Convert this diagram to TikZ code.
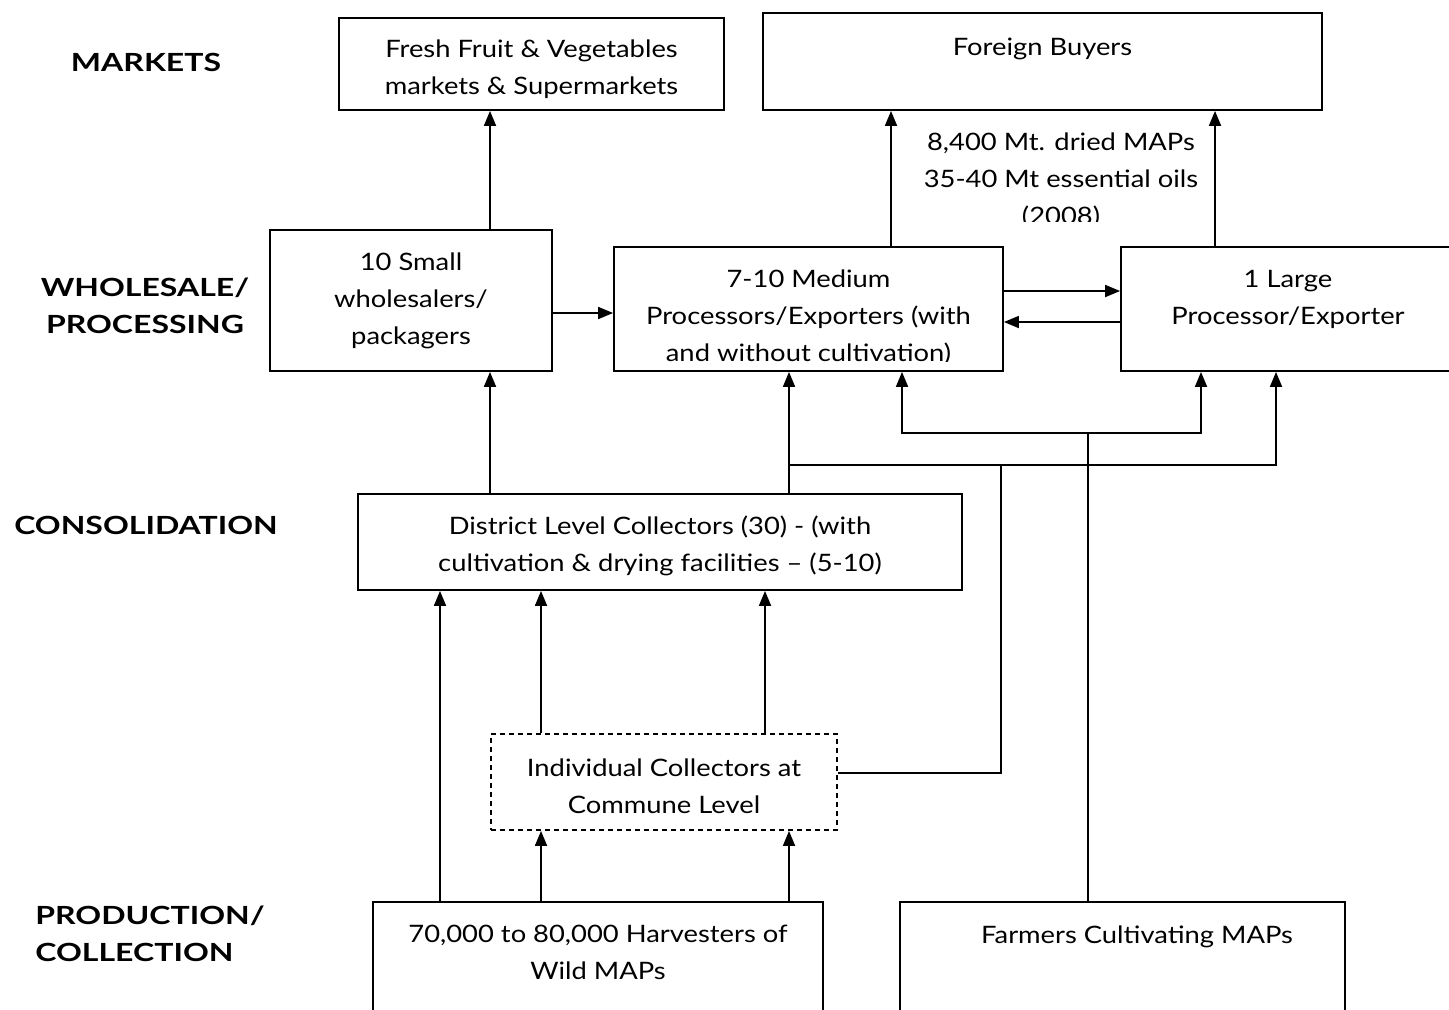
\documentclass[tikz,border=0pt]{standalone}
\usepackage{fontspec}
\setmainfont{Lato}[FakeStretch=1.14]
\newfontfamily\lvlfont{Lato}[FakeStretch=1.28]
\usetikzlibrary{shapes,arrows.meta}

\begin{document}
\begin{tikzpicture}[x=0.5pt,y=-0.5pt]
        \tikzstyle{box}=[rectangle,draw,line width=0.9pt,inner sep=0pt]
        \tikzstyle{txt}=[align=center,inner sep=0pt,font=\fontsize{12}{18.5}\selectfont]
        \tikzstyle{level}=[align=center,inner sep=0pt,font=\fontsize{12.5}{18.5}\selectfont\lvlfont\bfseries]
        \tikzstyle{arr}=[line width=0.9pt,-{Triangle[width=6pt,length=7.5pt]}]
        \tikzstyle{wire}=[line width=0.9pt]
        \clip (0,0) rectangle (1449,1009);

        % levels
        \node[level] (mkt) at (146,62) {MARKETS};
        \node[level] (whl) at (145,306) {WHOLESALE/\\PROCESSING};
        \node[level] (cons) at (146,525) {CONSOLIDATION};
        \node[level,align=left,anchor=west] (prod) at (35,934) {PRODUCTION/\\COLLECTION};

        % boxes
        \node[box,minimum width=192.5pt,minimum height=46pt] (fresh) at (531.5,64) {};
        \node[txt] (fresht) at (531.5,69) {Fresh Fruit \& Vegetables\\markets \& Supermarkets};
        \node[box,minimum width=279.5pt,minimum height=48.5pt] (foreign) at (1042.5,61.5) {};
        \node[txt] (foreignt) at (1042.5,49) {Foreign Buyers};
        \begin{scope}
        \clip (890,118) rectangle (1210,221);
        \node[txt] (volume) at (1061,180) {8,400 Mt. dried MAPs\\35-40 Mt essential oils\\(2008)};
        \end{scope}
        \node[box,minimum width=141pt,minimum height=70.5pt] (small) at (411,300.5) {};
        \node[txt] (smallt) at (411,301) {10 Small\\wholesalers/\\packagers};
        \node[box,minimum width=194.5pt,minimum height=62pt] (medium) at (808.5,309) {};
        \begin{scope}
        \clip (614,247) rectangle (1003,361);
        \node[txt] (mediumt) at (808.5,317) {7-10 Medium\\Processors/Exporters (with\\and without cultivation)};
        \end{scope}
        \node[box,minimum width=167pt,minimum height=62pt] (large) at (1288,309) {};
        \node[txt] (larget) at (1288,299.5) {1 Large\\Processor/Exporter};
        \node[box,minimum width=302pt,minimum height=48pt] (district) at (660,542) {};
        \node[txt] (districtt) at (660,546) {District Level Collectors (30) - (with\\cultivation \& drying facilities -- (5-10)};
        \node[box,dashed,dash pattern=on 2.5pt off 2pt,minimum width=173pt,minimum height=48pt] (indiv) at (664,782) {};
        \node[txt] (indivt) at (664,786) {Individual Collectors at\\Commune Level};
        \node[box,minimum width=225pt,minimum height=64pt] (harv) at (598,966) {};
        \node[txt] (harvt) at (598,952) {70,000 to 80,000 Harvesters of\\Wild MAPs};
        \node[box,minimum width=222.5pt,minimum height=64pt] (farm) at (1122.5,966) {};
        \node[txt] (farmt) at (1137,937) {Farmers Cultivating MAPs};

        % guides
        \coordinate (xa) at (490,0);
        \coordinate (xb) at (891,0);
        \coordinate (xc) at (1215,0);
        \coordinate (xe) at (440,0);
        \coordinate (xf) at (541,0);
        \coordinate (xg) at (789,0);
        \coordinate (xh) at (765,0);
        \coordinate (ya) at (0,313);
        \coordinate (yb) at (0,291);
        \coordinate (yc) at (0,322);
        \coordinate (j1) at (789,465);
        \coordinate (j2) at (1276,465);
        \coordinate (j3) at (1001,465);
        \coordinate (j4) at (1001,773);
        \coordinate (j5) at (902,433);
        \coordinate (j6) at (1201,433);
        \coordinate (j7) at (1088,433);

        % connectors
        \draw[arr] (small.north -| xa) -- (fresh.south -| xa);
        \draw[arr] (small.east |- ya) -- (medium.west |- ya);
        \draw[arr] (medium.north -| xb) -- (foreign.south -| xb);
        \draw[arr] (large.north -| xc) -- (foreign.south -| xc);
        \draw[arr] (medium.east |- yb) -- (large.west |- yb);
        \draw[arr] (large.west |- yc) -- (medium.east |- yc);
        \draw[arr] (district.north -| xa) -- (small.south -| xa);
        \draw[arr] (district.north -| j1) -- (medium.south -| j1);
        \draw[arr] (j1) -- (j2) -- (large.south -| j2);
        \draw[wire] (indiv.east |- j4) -- (j4) -- (j3);
        \draw[wire] (farm.north -| j7) -- (j7);
        \draw[arr] (j6) -- (j5) -- (medium.south -| j5);
        \draw[arr] (j5) -- (j6) -- (large.south -| j6);
        \draw[arr] (harv.north -| xe) -- (district.south -| xe);
        \draw[arr] (harv.north -| xf) -- (indiv.south -| xf);
        \draw[arr] (harv.north -| xg) -- (indiv.south -| xg);
        \draw[arr] (indiv.north -| xf) -- (district.south -| xf);
        \draw[arr] (indiv.north -| xh) -- (district.south -| xh);
\end{tikzpicture}
\end{document}
